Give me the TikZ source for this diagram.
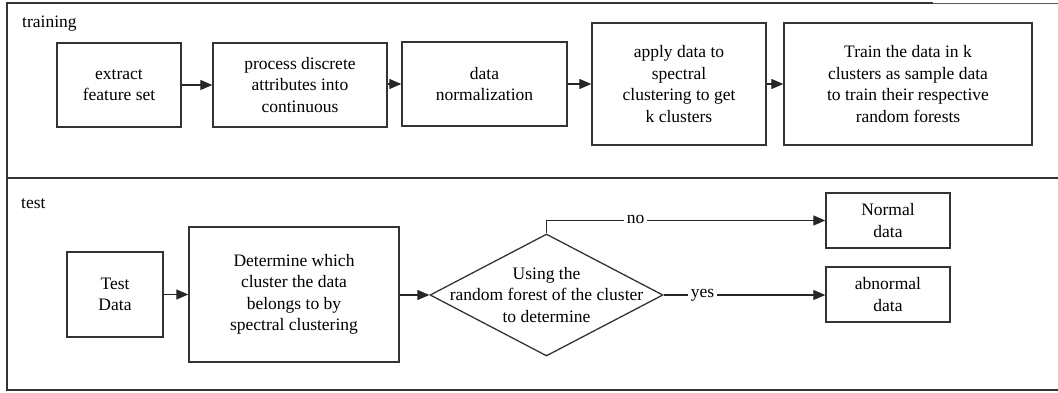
\documentclass[tikz,border=0pt]{standalone}
\usepackage{fontspec}
\setmainfont{Liberation Serif}
\usetikzlibrary{arrows.meta,shapes.geometric}
\begin{document}
\begin{tikzpicture}[x=1pt,y=-1pt,
  font=\fontsize{17.5}{21.5}\selectfont,
  frame/.style={draw=black!80,line width=1.6pt},
  thinframe/.style={draw=black!65,line width=1.1pt},
  box/.style={draw=black!80,line width=1.4pt,rectangle,align=center,inner sep=0pt},
  conn/.style={draw=black!85,line width=1.3pt,-{Triangle[length=12pt,width=10pt]}},
  lbl/.style={fill=white,inner xsep=3pt,inner ysep=0pt,anchor=base,yshift=-0.6ex},
  sec/.style={anchor=base west,inner sep=0pt}]
\useasboundingbox (0,0) rectangle (1058,392);
% frame
\draw[thinframe] (933,3.5) -- (1058,3.5);
\draw[frame] (933,3) -- (7,3) -- (7,390) -- (1058,390);
\draw[frame] (7,178) -- (1058,178);
\node[sec] (training) at (22,27) {training};
\node[sec] (test) at (21,208) {test};
% training row
\node[box,minimum width=124pt,minimum height=84pt] (b1) at (119,85) {extract\\feature set};
\node[box,minimum width=174pt,minimum height=84pt] (b2) at (300,85) {process discrete\\attributes into\\continuous};
\node[box,minimum width=165pt,minimum height=84pt] (b3) at (484.5,84) {data\\normalization};
\node[box,minimum width=174pt,minimum height=122pt] (b4) at (679,84) {apply data to\\spectral\\clustering to get\\k clusters};
\node[box,minimum width=248pt,minimum height=122pt] (b5) at (908,84) {Train the data in k\\clusters as sample data\\to train their respective\\random forests};
\draw[conn] (b1.east) -- (b1.east -| b2.west);
\draw[conn] (b2.east |- b3.west) -- (b3.west);
\draw[conn] (b3.east) -- (b3.east -| b4.west);
\draw[conn] (b4.east) -- (b5.west);
% test row
\node[box,minimum width=96pt,minimum height=85pt] (td) at (115,294.5) {Test\\Data};
\node[box,minimum width=210pt,minimum height=135pt] (det) at (294,294.5) {Determine which\\cluster the data\\belongs to by\\spectral clustering};
\node[draw=black!80,line width=1.3pt,diamond,inner sep=0pt,minimum width=233pt,minimum height=122pt] (dia) at (546.5,295) {};
\node[align=center,inner sep=0pt] (diatext) at (dia.center) {Using the\\random forest of the cluster\\to determine};
\node[box,minimum width=124pt,minimum height=55pt] (norm) at (888,220.5) {Normal\\data};
\node[box,minimum width=124pt,minimum height=55pt] (abn) at (888,294.5) {abnormal\\data};
\draw[conn] (td.east) -- (td.east -| det.west);
\draw[conn] (det.east |- dia.west) -- (dia.west);
\draw[conn] (dia.north) |- node[lbl,pos=0.66] {no} (norm.west);
\draw[conn] (dia.east) -- node[lbl,pos=0.24] {yes} (dia.east -| abn.west);
\end{tikzpicture}
\end{document}
